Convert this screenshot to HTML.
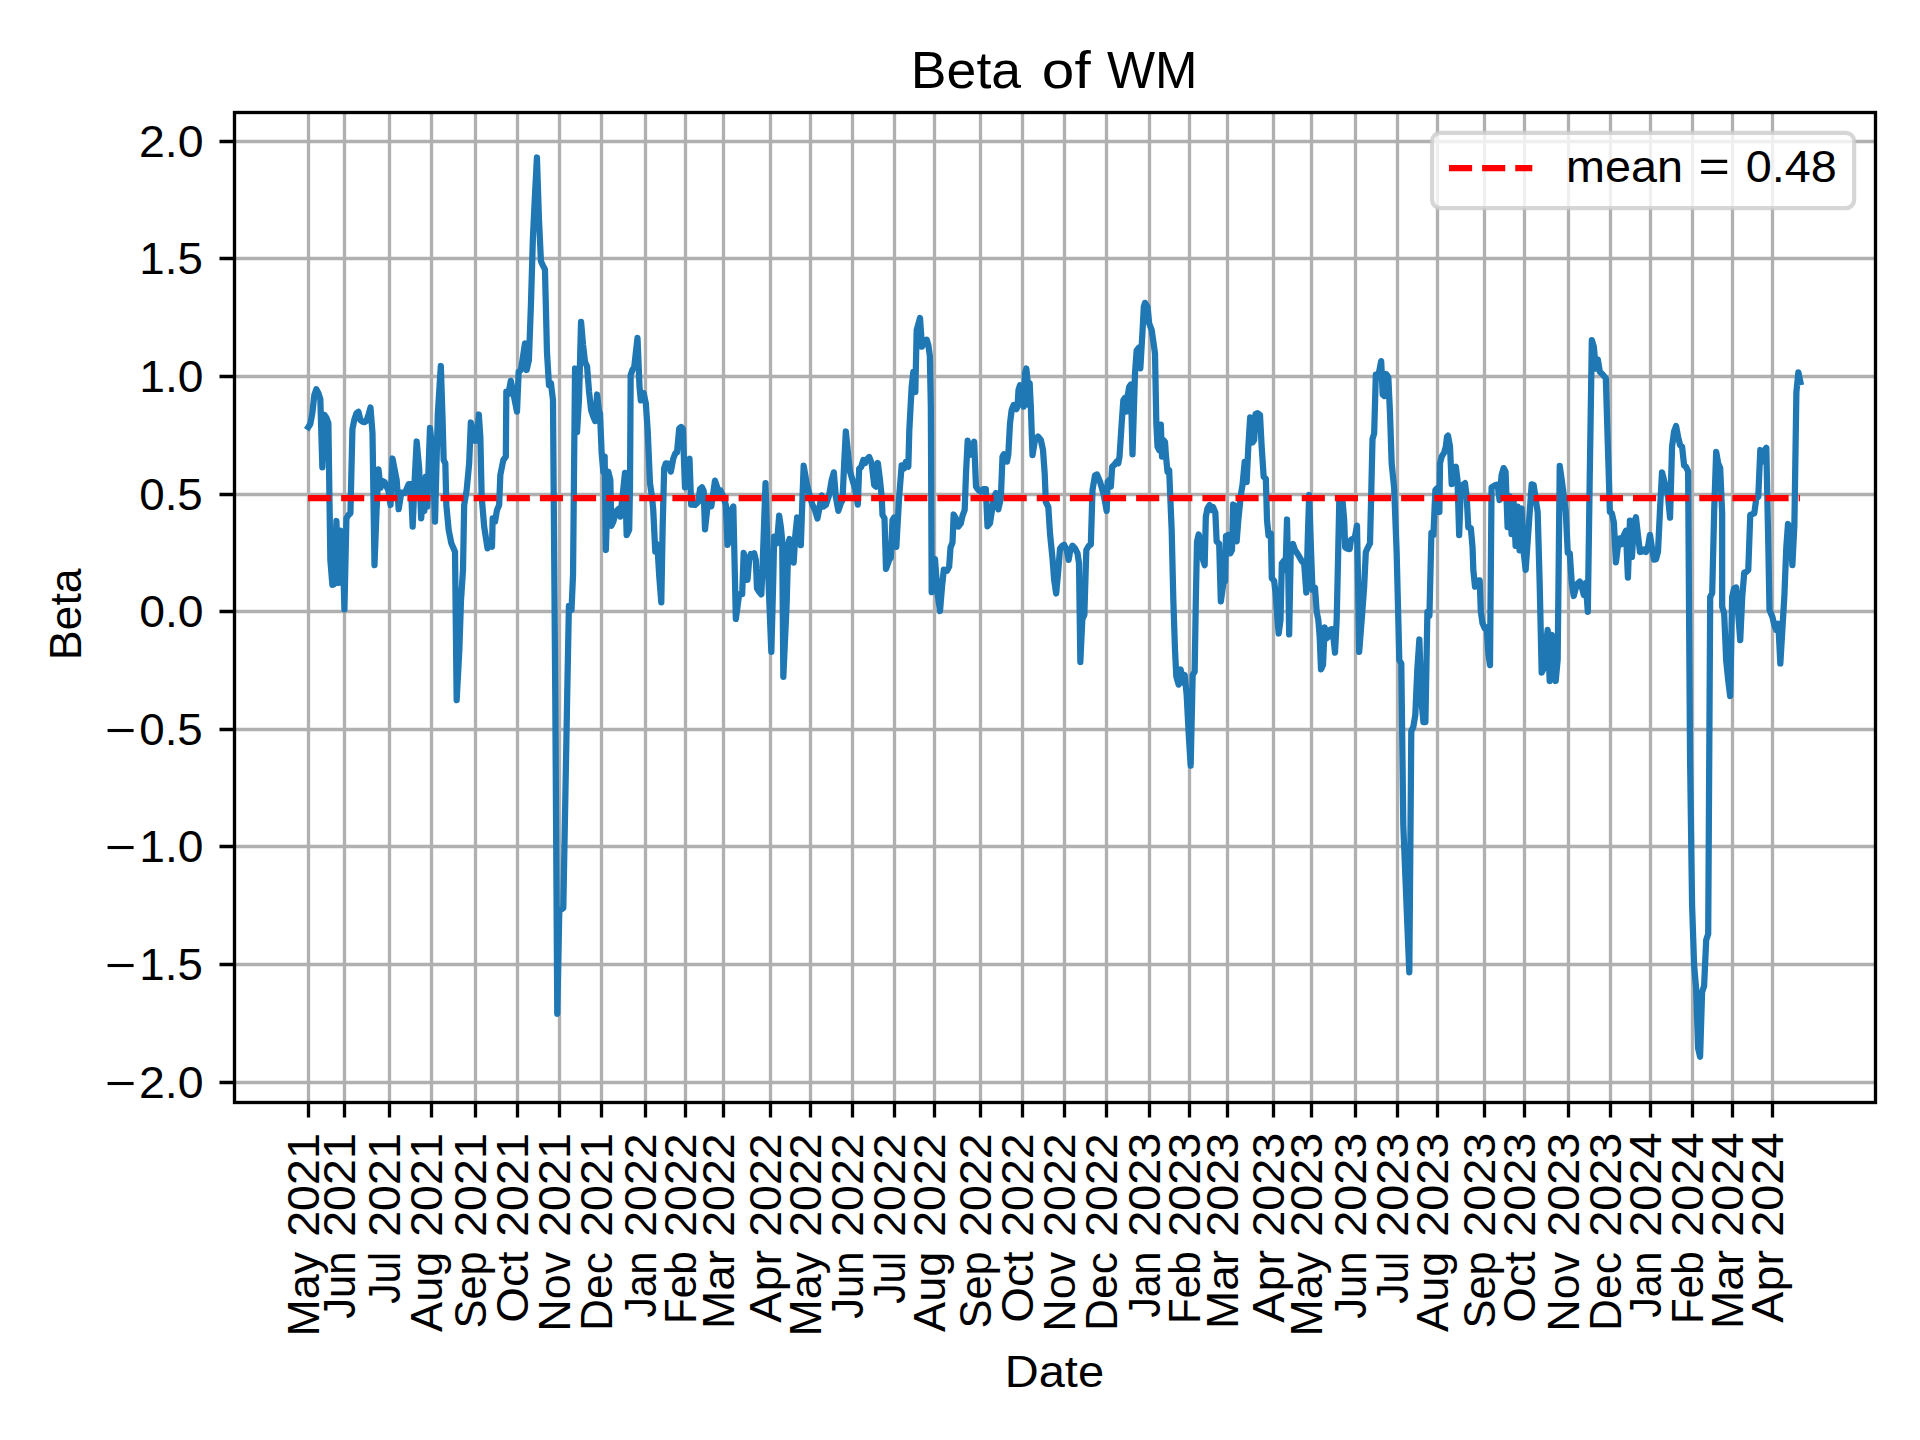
<!DOCTYPE html>
<html lang="en"><head><meta charset="utf-8"><title>Beta of WM</title>
<style>
html,body{margin:0;padding:0;background:#fff;}
body{width:1920px;height:1440px;overflow:hidden;}
svg{display:block;}
text{font-family:"Liberation Sans",sans-serif;fill:#000;}
.g{stroke:#b0b0b0;stroke-width:3.3333;fill:none;}
.k{stroke:#000;stroke-width:3.3333;fill:none;}
.t{font-size:43.6px;}
</style></head>
<body>
<svg width="1920" height="1440" viewBox="0 0 1920 1440">
<rect x="0" y="0" width="1920" height="1440" fill="#ffffff"/>
<defs><clipPath id="ax"><rect x="234.5" y="112.5" width="1641" height="990"/></clipPath></defs>
<g class="g">
<path d="M308.5 112.5V1102.5M344.5 112.5V1102.5M389.5 112.5V1102.5M431.5 112.5V1102.5M475.5 112.5V1102.5M517.5 112.5V1102.5M559.5 112.5V1102.5M601.5 112.5V1102.5M645.5 112.5V1102.5M685.5 112.5V1102.5M723.5 112.5V1102.5M770.5 112.5V1102.5M810.5 112.5V1102.5M852.5 112.5V1102.5M894.5 112.5V1102.5M934.5 112.5V1102.5M980.5 112.5V1102.5M1022.5 112.5V1102.5M1064.5 112.5V1102.5M1106.5 112.5V1102.5M1149.5 112.5V1102.5M1189.5 112.5V1102.5M1227.5 112.5V1102.5M1273.5 112.5V1102.5M1311.5 112.5V1102.5M1355.5 112.5V1102.5M1397.5 112.5V1102.5M1437.5 112.5V1102.5M1484.5 112.5V1102.5M1524.5 112.5V1102.5M1568.5 112.5V1102.5M1610.5 112.5V1102.5M1650.5 112.5V1102.5M1692.5 112.5V1102.5M1732.5 112.5V1102.5M1772.5 112.5V1102.5"/>
<path d="M234.5 141.5H1875.5M234.5 258.5H1875.5M234.5 376.5H1875.5M234.5 494.5H1875.5M234.5 611.5H1875.5M234.5 729.5H1875.5M234.5 846.5H1875.5M234.5 964.5H1875.5M234.5 1082.5H1875.5"/>
</g>
<g clip-path="url(#ax)">
<polyline fill="none" stroke="#1f77b4" stroke-width="6.25" stroke-linejoin="round" stroke-linecap="square" points="308.31,427.1 310.32,424 312.32,413.3 314.33,395 316.33,389.3 318.34,392.9 320.35,399.3 322.35,467.3 324.36,414.8 326.36,417.7 328.37,423.1 330.37,560 332.38,584.8 334.38,584 336.39,521 338.39,583 340.4,530.6 342.41,532.5 344.41,609.4 346.42,518.5 348.42,515 350.43,513.3 352.43,429.2 354.44,419.2 356.44,413.3 358.45,411.8 360.46,420 362.46,421.7 364.47,422.1 366.47,420.8 368.48,415 370.48,407.5 372.49,433 374.49,565.2 376.5,512 378.5,469.3 380.51,488 382.52,481 384.52,482 386.53,486 388.53,491 390.54,505 392.54,458.5 396.67,480 398.67,509.17 401.33,492.5 405,493 408.67,484.17 410.83,484.17 412.67,526.67 414.67,480 416.67,441.5 419.17,468.33 421.17,518.33 423,496.67 424.33,510.83 425.83,476.67 427.17,506.67 430,428 432.83,455 435,521.67 437.83,413.33 440.83,366 442.5,416.67 443.67,460 445.33,463.33 446.33,505 448.67,530 451.33,543.33 455,551.67 456.67,700.17 459.33,650 461,600 463,570 464.17,505 466.67,490 469.17,463.33 470.83,422.5 473.33,431.67 475.33,440.83 477,436.67 478.83,414.5 480.33,436.67 481.67,496.67 484.17,526.67 487.5,548.33 490,545 492,546.67 492.67,518.33 495,521.67 497,510 499.17,505 500.33,475 503.33,460 505.83,456.67 506.33,391.67 508.33,394.17 510.83,380.83 513.33,393.33 517,411.67 518.67,371.67 520.83,370 522.5,360 525,343.33 526.67,370 528.91,360 530.92,305 532.92,237.5 534.93,196 536.94,157.5 538.94,218.8 540.95,261.3 542.95,265.6 544.96,269.4 546.96,352 548.97,385 550.97,383.3 552.98,400 555.3,700 557.27,1013.8 559.3,911 561.3,909.5 563.3,908 565.3,800 567.3,690 568.9,606 571.5,610 573.03,575 575.04,368.5 577.05,432 579.05,398 581.06,321.8 583.06,345 585.07,362 587.07,366.5 589.08,392 591.08,410 593.09,416 595.1,421 597.1,394.5 599.1,412 600,413.33 601.67,453.33 603.33,471.67 604.67,456.67 605.83,550 608.33,471.67 610.33,480 611.33,525.83 613.33,521.67 615.83,511.67 618.33,509.17 620.33,516.67 622.5,496.67 625,472.83 626.67,535.17 629.17,530 630,488.33 630.67,375 632.5,369.67 634.17,367.5 637.5,337.83 639.5,386.67 640.83,400.33 643.67,393.17 645.83,403.33 647.67,430 650,483.33 652,496.67 653.25,510 655.27,551.67 657.27,544.17 659.27,576.67 661.28,602.33 662.67,526.67 664.17,468.33 665.83,463.33 668.33,463.67 670.83,471.67 673.33,458.33 675.33,453.33 677,452.5 679.17,428.67 681.17,427 682.83,428.67 685,487.5 687.5,461.67 689.5,458.67 691.17,504.67 695,505 698.33,501.67 700,489.17 702,487.33 703.67,490.83 705,529.33 707.5,506.67 709.17,500.33 711.33,506.33 715,480.67 717.5,488.33 719.17,494.17 720.33,490.33 723.33,496.67 725.83,505 727.5,544.83 730,538.33 731.17,510 733.33,506.5 735.83,619 739.17,594.17 742.17,594.17 743.67,552.83 745.33,560 747.5,579.83 749.17,560 750.83,554 752.5,556 754.17,553.17 755.83,560 757,588.33 759.17,592 761.33,594.33 762.83,560 765.5,483.17 768.33,576.67 771.33,651.83 773.33,576.67 774.17,536.67 775.83,540 777,543.33 779.17,515.67 780.83,526.67 782.17,540 783.33,676.83 786.67,603.33 788.33,543.33 789.5,539 791.67,545.83 793.67,562.67 795.33,535 797.17,517.5 799.17,520 800.83,545.17 802.5,496.67 803.67,465.67 806.67,483.33 810,496.67 812.5,505 815,510 817.5,518.5 819.67,506.67 821.67,495.33 823.33,506.67 825.83,505 829.17,495 831.67,480 833.83,472.33 835.83,496.67 838.33,510.83 840.83,503.33 842.5,500 844.17,463.33 845.83,431.5 848.33,456.67 850,471.67 852.5,480 855,488.33 857.83,504.67 859.17,468.67 861.17,467 863.33,460 865,463.33 866.67,459.5 869.17,457 871.67,463.33 874.17,485 875.83,486.67 877.83,463 880,480 881.67,496.67 882.5,515 884.5,518.33 886,569 889.17,560 890.83,557.5 892.5,520 894,517.5 896.33,546.83 899.17,496.67 901.67,465.33 904.17,468.33 905.83,462 908.33,466.67 909.33,430 911.67,386.67 913.33,372 915.33,392 916.67,330 918.33,324.17 920,318 922,346.67 924.17,340.83 926.67,339.67 928.33,345 929.83,355.83 930.83,406.67 931.67,592.17 935,559 937.5,593.33 940,611 942,586.67 943.83,569.67 947,570.83 949.17,566.67 950.5,547.5 952.5,542.5 953.67,514.5 955.83,518.33 958.33,526.67 960.83,523.33 962.5,515.83 964.67,510 966,473.33 967.67,440.67 969.67,455 971,450.83 974.17,441.67 976,486.67 978.33,490 980.83,491.67 983.33,489.17 985.83,489.17 987.5,526.33 990,523.33 992.5,506.67 994.17,496.67 996,493 998.33,509.33 1000.83,498.33 1002.5,456.67 1003.83,454.17 1005.83,455 1007,461.67 1008.33,454.17 1010,423.33 1011.67,410 1013.67,405 1016.33,409.17 1017.5,406.67 1018.5,390 1020,385.33 1022,396.67 1023.67,406.67 1025,373.33 1026.33,368.5 1027.83,383.33 1028.67,405 1029.67,383.33 1030.83,406.67 1032.5,455.17 1035,440 1038,436.5 1040.83,440 1043,450 1044.67,473.33 1045.83,502 1048.33,507 1050,533.33 1052.5,558.33 1054.17,580 1056.17,593.5 1058.33,570 1060,548.67 1062,546 1064.17,544.83 1066.67,550 1068.67,559.83 1070.33,550 1072.5,545.67 1075,548.33 1077.5,553.33 1079,563.33 1080.33,662 1082.33,619.17 1084.33,615 1086.33,550 1088.67,546 1090.83,544.67 1092.5,490 1095,475.33 1097,474.5 1100,481.67 1103.33,493.33 1105.33,503.33 1106.67,511 1107.67,481.67 1109.33,480 1110.83,486.67 1112.17,466.67 1114.17,465 1116.67,461.67 1118.33,463.33 1119.5,456.67 1121.67,423.33 1123.33,400.33 1125,397.83 1126.17,411.67 1127.5,396.67 1129.17,387 1130.83,384.5 1132.5,454.33 1135,373.33 1136.67,350.33 1138.67,347.83 1140.33,368.33 1142.5,331.67 1143.83,306.67 1145,302.83 1147.5,306.67 1149.17,323.33 1151.67,330 1155,353.33 1156.33,423.33 1157.5,446.67 1159.17,450 1160.83,424.67 1162,456.67 1163.33,440 1165,442 1166,456.67 1167.5,471.67 1169.17,470.33 1170.33,498.33 1171.67,530 1173.33,600 1175,650 1176.33,676.67 1178.67,684.67 1180.67,669.5 1182.67,682.5 1184.67,675 1186.67,695 1188.67,733.33 1190.67,765.67 1192.67,675 1194.67,671.67 1195.83,600 1197,541.67 1198.67,534.5 1200.83,541.67 1202.5,558.33 1204.67,565.17 1205.83,516.67 1207.5,508.33 1209.5,505 1211.33,510 1213,507 1215.33,512.5 1216.67,541.67 1219.17,543.67 1220.83,601.5 1223.33,583.33 1225,581.33 1226,535.83 1228.33,535 1230.33,553.33 1232,550 1233.17,504.5 1235,505.83 1236.67,541.33 1238.33,520 1240.83,495 1242.5,485 1244.67,462 1246.67,482 1248.33,446.67 1250.17,417.33 1252.5,442.5 1254.17,440 1255.5,414.17 1257.67,413.17 1260,415 1261.67,446.67 1263.67,476.67 1265.83,478.67 1267,520 1268.5,535.33 1270.83,533.67 1271.83,578.33 1274.17,580.83 1275.83,595 1277.5,620 1278.67,633.5 1280.5,620 1281.83,563.33 1284.17,560.33 1285.5,570 1287,519.5 1288.33,576.67 1289.17,634.33 1290.83,546.67 1293,544 1295,550 1298.33,555 1301.67,560.83 1304.17,563.67 1306.33,592.5 1307.83,536.67 1309.17,495 1310.83,545 1312.5,590 1315,587.83 1316.67,611.67 1318.33,620 1319.67,636.67 1321,669.33 1323,665 1324.67,627.33 1326.67,638.33 1328.33,636.67 1330.33,629.5 1332,629.17 1333.33,636.67 1335,652.67 1336.67,620 1338.17,553.33 1339.33,498.67 1342.5,500.33 1344.17,520 1345.17,547.5 1347.5,548.67 1349.67,549.17 1351,539.67 1353.33,538.67 1355,536.67 1357,525.67 1358.17,586.67 1359.17,651.83 1361.67,620 1364.17,586.67 1365.83,552 1367.83,547.67 1370,543.33 1371,503.33 1372.5,439.17 1374.17,433.33 1375.83,374.67 1377.5,377 1379.17,371.67 1381.17,361.17 1382.67,394.67 1384.33,396 1386.17,374 1388.33,377.5 1390,413.33 1391.67,463.33 1394.17,488.33 1396.67,553.33 1398.33,620 1399.3,660 1401.3,663.5 1403.3,825 1405.3,875 1407.3,924 1409.32,972.3 1411.3,731 1413.3,727 1415.3,715 1417.3,670 1419.35,639.5 1421.4,700 1423.4,722 1425.4,722 1427.4,612 1429.4,616 1431.4,533 1433.4,535 1435.4,490 1437.4,488 1439.4,512 1440,463.33 1441.67,456.67 1444.17,452.5 1445.83,446.67 1447,436.67 1448,435.67 1450,446.67 1451.67,484.17 1453.33,468.33 1455.83,466.67 1457.5,480 1459.17,535.17 1460.83,488.33 1462.5,485 1465,483.17 1466.67,496.67 1468.33,527.5 1470.83,528 1472.5,546.67 1473.33,570 1475,586.67 1477.5,580.83 1479.67,580.33 1480.83,611.67 1482.5,623.33 1484.67,628.33 1486.67,627.5 1488.33,653.33 1490,665.17 1491.55,487.5 1493.56,486.25 1495.56,485 1497.57,484.58 1499.58,500 1501.58,475 1503.58,468.08 1505.58,471.83 1507.58,527.08 1509.58,496.42 1511.58,534.17 1513.58,501.67 1515.58,545.83 1517.58,506.67 1519.58,550.42 1521.58,508.5 1523.58,551.25 1525.64,570 1527.65,541.42 1529.66,512.92 1531.67,484.33 1533.67,485 1535.67,499.17 1537.67,512.08 1539.67,583.33 1541.67,672.67 1543.67,668.33 1545.67,646.67 1547.67,629.83 1549.67,681 1551.67,634.83 1553.67,637.33 1555.67,681 1557.67,660 1559.73,465.83 1561.73,480 1563.75,495.33 1565.75,511.67 1567.75,552.83 1569.77,553.33 1571.77,583.33 1573.77,596 1575.78,588.33 1577.78,583.33 1579.78,581.5 1581.8,586.67 1583.8,595 1585.8,583 1587.82,611.83 1589.82,471.67 1591.83,340.17 1593.83,346.67 1595.83,368.67 1597.83,359.5 1599.83,371.67 1601.83,373.67 1603.83,375.83 1605.83,378.33 1607.83,445 1609.88,512 1611.88,513.33 1613.88,522.5 1615.9,562.33 1617.9,546.67 1619.9,538.33 1621.92,544.17 1623.92,535 1625.92,530.83 1627.93,577.67 1629.93,520.67 1631.93,557 1633.95,523.33 1635.95,517.33 1637.95,535 1639.97,552 1641.97,551.67 1643.97,549.67 1645.98,552 1647.98,546.67 1649.98,534.83 1652,548.33 1654,559.67 1656,559.17 1658,551.67 1660,510 1662,472.33 1664,480 1666,488.33 1668,496.67 1670.05,517.67 1672.05,446.67 1674.05,431.67 1676.07,426 1678.07,436.67 1680.07,445 1682.08,446.67 1684.08,465.33 1686.08,467 1688.1,471.33 1690.08,760 1692.09,905 1694.09,965 1696.1,988 1698.1,1048.3 1700.1,1056.7 1702.1,992 1704.1,986 1706.2,940 1708.2,934 1710.2,597 1712.2,593 1714.2,510 1716.17,451.83 1718.17,463.33 1720.17,468 1722.17,513.33 1722.17,606.67 1724.17,613.33 1726.17,660.33 1728.17,680 1730.17,696 1732.17,596.67 1734.17,588.33 1736.17,587.5 1738.17,613.33 1740.23,640.17 1742.25,596.67 1744.25,572.5 1746.25,572 1748.27,570 1750.27,515 1752.27,514.17 1754.28,513.33 1756.28,498.67 1758.28,496.67 1760.3,450 1762.3,461.67 1764.3,450.83 1766.32,447.83 1768.32,546.67 1769.5,610 1772.33,616.67 1774.33,625 1776.33,630 1778.33,623.67 1780.33,663.5 1782.33,630 1784.33,596.67 1786.33,546.67 1788,524 1790.38,530 1792.38,565.17 1794.38,525 1796.39,392 1798.39,372.3 1800.4,382"/>
<line x1="308" y1="498" x2="1800" y2="498" stroke="#ff0000" stroke-width="6.25" stroke-dasharray="23.125 10"/>
</g>
<path class="k" d="M308.5 1102.5V1117.5M344.5 1102.5V1117.5M389.5 1102.5V1117.5M431.5 1102.5V1117.5M475.5 1102.5V1117.5M517.5 1102.5V1117.5M559.5 1102.5V1117.5M601.5 1102.5V1117.5M645.5 1102.5V1117.5M685.5 1102.5V1117.5M723.5 1102.5V1117.5M770.5 1102.5V1117.5M810.5 1102.5V1117.5M852.5 1102.5V1117.5M894.5 1102.5V1117.5M934.5 1102.5V1117.5M980.5 1102.5V1117.5M1022.5 1102.5V1117.5M1064.5 1102.5V1117.5M1106.5 1102.5V1117.5M1149.5 1102.5V1117.5M1189.5 1102.5V1117.5M1227.5 1102.5V1117.5M1273.5 1102.5V1117.5M1311.5 1102.5V1117.5M1355.5 1102.5V1117.5M1397.5 1102.5V1117.5M1437.5 1102.5V1117.5M1484.5 1102.5V1117.5M1524.5 1102.5V1117.5M1568.5 1102.5V1117.5M1610.5 1102.5V1117.5M1650.5 1102.5V1117.5M1692.5 1102.5V1117.5M1732.5 1102.5V1117.5M1772.5 1102.5V1117.5M219.5 141.5H234.5M219.5 258.5H234.5M219.5 376.5H234.5M219.5 494.5H234.5M219.5 611.5H234.5M219.5 729.5H234.5M219.5 846.5H234.5M219.5 964.5H234.5M219.5 1082.5H234.5"/>
<rect class="k" x="234.5" y="112.5" width="1641" height="990" stroke-linejoin="miter"/>
<text class="t" y="157"><tspan x="138.99" textLength="64.58" lengthAdjust="spacingAndGlyphs">2.0</tspan></text>
<text class="t" y="274"><tspan x="139.37" textLength="63.43" lengthAdjust="spacingAndGlyphs">1.5</tspan></text>
<text class="t" y="392"><tspan x="139.33" textLength="64.24" lengthAdjust="spacingAndGlyphs">1.0</tspan></text>
<text class="t" y="510"><tspan x="139.22" textLength="63.58" lengthAdjust="spacingAndGlyphs">0.5</tspan></text>
<text class="t" y="627"><tspan x="139.2" textLength="64.37" lengthAdjust="spacingAndGlyphs">0.0</tspan></text>
<text class="t" y="745"><tspan x="105.13" textLength="31.33" lengthAdjust="spacingAndGlyphs">−</tspan><tspan x="139.22" textLength="63.58" lengthAdjust="spacingAndGlyphs">0.5</tspan></text>
<text class="t" y="862"><tspan x="105.13" textLength="31.33" lengthAdjust="spacingAndGlyphs">−</tspan><tspan x="139.33" textLength="64.24" lengthAdjust="spacingAndGlyphs">1.0</tspan></text>
<text class="t" y="980"><tspan x="105.13" textLength="31.33" lengthAdjust="spacingAndGlyphs">−</tspan><tspan x="139.37" textLength="63.43" lengthAdjust="spacingAndGlyphs">1.5</tspan></text>
<text class="t" y="1098"><tspan x="105.13" textLength="31.33" lengthAdjust="spacingAndGlyphs">−</tspan><tspan x="138.99" textLength="64.58" lengthAdjust="spacingAndGlyphs">2.0</tspan></text>
<text class="t" transform="translate(319 1336.93) rotate(-90)"><tspan x="0.41" textLength="84.56" lengthAdjust="spacingAndGlyphs">May</tspan> <tspan x="100.1" textLength="103.75" lengthAdjust="spacingAndGlyphs">2021</tspan></text>
<text class="t" transform="translate(355 1315.89) rotate(-90)"><tspan x="-2.81" textLength="67.07" lengthAdjust="spacingAndGlyphs">Jun</tspan> <tspan x="79.06" textLength="103.75" lengthAdjust="spacingAndGlyphs">2021</tspan></text>
<text class="t" transform="translate(400 1301.06) rotate(-90)"><tspan x="-2.8" textLength="51.88" lengthAdjust="spacingAndGlyphs">Jul</tspan> <tspan x="64.23" textLength="103.75" lengthAdjust="spacingAndGlyphs">2021</tspan></text>
<text class="t" transform="translate(442 1332.14) rotate(-90)"><tspan x="0.24" textLength="80.24" lengthAdjust="spacingAndGlyphs">Aug</tspan> <tspan x="95.31" textLength="103.75" lengthAdjust="spacingAndGlyphs">2021</tspan></text>
<text class="t" transform="translate(486 1329.32) rotate(-90)"><tspan x="0.77" textLength="77.31" lengthAdjust="spacingAndGlyphs">Sep</tspan> <tspan x="92.49" textLength="103.75" lengthAdjust="spacingAndGlyphs">2021</tspan></text>
<text class="t" transform="translate(528 1322.83) rotate(-90)"><tspan x="0.18" textLength="71.19" lengthAdjust="spacingAndGlyphs">Oct</tspan> <tspan x="86" textLength="103.75" lengthAdjust="spacingAndGlyphs">2021</tspan></text>
<text class="t" transform="translate(570 1332.1) rotate(-90)"><tspan x="0.4" textLength="79.81" lengthAdjust="spacingAndGlyphs">Nov</tspan> <tspan x="95.27" textLength="103.75" lengthAdjust="spacingAndGlyphs">2021</tspan></text>
<text class="t" transform="translate(612 1331.41) rotate(-90)"><tspan x="0.45" textLength="78.75" lengthAdjust="spacingAndGlyphs">Dec</tspan> <tspan x="94.58" textLength="103.75" lengthAdjust="spacingAndGlyphs">2021</tspan></text>
<text class="t" transform="translate(656 1315.01) rotate(-90)"><tspan x="-2.8" textLength="66.15" lengthAdjust="spacingAndGlyphs">Jan</tspan> <tspan x="78.19" textLength="103.49" lengthAdjust="spacingAndGlyphs">2022</tspan></text>
<text class="t" transform="translate(696 1324.56) rotate(-90)"><tspan x="0.63" textLength="72.63" lengthAdjust="spacingAndGlyphs">Feb</tspan> <tspan x="87.73" textLength="103.49" lengthAdjust="spacingAndGlyphs">2022</tspan></text>
<text class="t" transform="translate(734 1329.4) rotate(-90)"><tspan x="0.32" textLength="79.07" lengthAdjust="spacingAndGlyphs">Mar</tspan> <tspan x="92.57" textLength="103.49" lengthAdjust="spacingAndGlyphs">2022</tspan></text>
<text class="t" transform="translate(781 1322.87) rotate(-90)"><tspan x="0.24" textLength="72.64" lengthAdjust="spacingAndGlyphs">Apr</tspan> <tspan x="86.04" textLength="103.49" lengthAdjust="spacingAndGlyphs">2022</tspan></text>
<text class="t" transform="translate(821 1336.93) rotate(-90)"><tspan x="0.41" textLength="84.56" lengthAdjust="spacingAndGlyphs">May</tspan> <tspan x="100.1" textLength="103.49" lengthAdjust="spacingAndGlyphs">2022</tspan></text>
<text class="t" transform="translate(863 1315.89) rotate(-90)"><tspan x="-2.81" textLength="67.07" lengthAdjust="spacingAndGlyphs">Jun</tspan> <tspan x="79.06" textLength="103.49" lengthAdjust="spacingAndGlyphs">2022</tspan></text>
<text class="t" transform="translate(905 1301.06) rotate(-90)"><tspan x="-2.8" textLength="51.88" lengthAdjust="spacingAndGlyphs">Jul</tspan> <tspan x="64.23" textLength="103.49" lengthAdjust="spacingAndGlyphs">2022</tspan></text>
<text class="t" transform="translate(945 1332.14) rotate(-90)"><tspan x="0.24" textLength="80.24" lengthAdjust="spacingAndGlyphs">Aug</tspan> <tspan x="95.32" textLength="103.49" lengthAdjust="spacingAndGlyphs">2022</tspan></text>
<text class="t" transform="translate(991 1329.32) rotate(-90)"><tspan x="0.77" textLength="77.31" lengthAdjust="spacingAndGlyphs">Sep</tspan> <tspan x="92.49" textLength="103.49" lengthAdjust="spacingAndGlyphs">2022</tspan></text>
<text class="t" transform="translate(1033 1322.83) rotate(-90)"><tspan x="0.18" textLength="71.19" lengthAdjust="spacingAndGlyphs">Oct</tspan> <tspan x="86" textLength="103.49" lengthAdjust="spacingAndGlyphs">2022</tspan></text>
<text class="t" transform="translate(1075 1332.1) rotate(-90)"><tspan x="0.4" textLength="79.81" lengthAdjust="spacingAndGlyphs">Nov</tspan> <tspan x="95.28" textLength="103.49" lengthAdjust="spacingAndGlyphs">2022</tspan></text>
<text class="t" transform="translate(1117 1331.41) rotate(-90)"><tspan x="0.45" textLength="78.75" lengthAdjust="spacingAndGlyphs">Dec</tspan> <tspan x="94.59" textLength="103.49" lengthAdjust="spacingAndGlyphs">2022</tspan></text>
<text class="t" transform="translate(1160 1315.01) rotate(-90)"><tspan x="-2.8" textLength="66.15" lengthAdjust="spacingAndGlyphs">Jan</tspan> <tspan x="78.18" textLength="104.05" lengthAdjust="spacingAndGlyphs">2023</tspan></text>
<text class="t" transform="translate(1200 1324.56) rotate(-90)"><tspan x="0.63" textLength="72.63" lengthAdjust="spacingAndGlyphs">Feb</tspan> <tspan x="87.72" textLength="104.05" lengthAdjust="spacingAndGlyphs">2023</tspan></text>
<text class="t" transform="translate(1238 1329.4) rotate(-90)"><tspan x="0.32" textLength="79.07" lengthAdjust="spacingAndGlyphs">Mar</tspan> <tspan x="92.56" textLength="104.05" lengthAdjust="spacingAndGlyphs">2023</tspan></text>
<text class="t" transform="translate(1284 1322.87) rotate(-90)"><tspan x="0.24" textLength="72.64" lengthAdjust="spacingAndGlyphs">Apr</tspan> <tspan x="86.03" textLength="104.05" lengthAdjust="spacingAndGlyphs">2023</tspan></text>
<text class="t" transform="translate(1322 1336.93) rotate(-90)"><tspan x="0.41" textLength="84.56" lengthAdjust="spacingAndGlyphs">May</tspan> <tspan x="100.09" textLength="104.05" lengthAdjust="spacingAndGlyphs">2023</tspan></text>
<text class="t" transform="translate(1366 1315.89) rotate(-90)"><tspan x="-2.81" textLength="67.07" lengthAdjust="spacingAndGlyphs">Jun</tspan> <tspan x="79.05" textLength="104.05" lengthAdjust="spacingAndGlyphs">2023</tspan></text>
<text class="t" transform="translate(1408 1301.06) rotate(-90)"><tspan x="-2.8" textLength="51.88" lengthAdjust="spacingAndGlyphs">Jul</tspan> <tspan x="64.22" textLength="104.05" lengthAdjust="spacingAndGlyphs">2023</tspan></text>
<text class="t" transform="translate(1448 1332.14) rotate(-90)"><tspan x="0.24" textLength="80.24" lengthAdjust="spacingAndGlyphs">Aug</tspan> <tspan x="95.31" textLength="104.05" lengthAdjust="spacingAndGlyphs">2023</tspan></text>
<text class="t" transform="translate(1495 1329.32) rotate(-90)"><tspan x="0.77" textLength="77.31" lengthAdjust="spacingAndGlyphs">Sep</tspan> <tspan x="92.48" textLength="104.05" lengthAdjust="spacingAndGlyphs">2023</tspan></text>
<text class="t" transform="translate(1535 1322.83) rotate(-90)"><tspan x="0.18" textLength="71.19" lengthAdjust="spacingAndGlyphs">Oct</tspan> <tspan x="85.99" textLength="104.05" lengthAdjust="spacingAndGlyphs">2023</tspan></text>
<text class="t" transform="translate(1579 1332.1) rotate(-90)"><tspan x="0.4" textLength="79.81" lengthAdjust="spacingAndGlyphs">Nov</tspan> <tspan x="95.27" textLength="104.05" lengthAdjust="spacingAndGlyphs">2023</tspan></text>
<text class="t" transform="translate(1621 1331.41) rotate(-90)"><tspan x="0.45" textLength="78.75" lengthAdjust="spacingAndGlyphs">Dec</tspan> <tspan x="94.58" textLength="104.05" lengthAdjust="spacingAndGlyphs">2023</tspan></text>
<text class="t" transform="translate(1661 1315.01) rotate(-90)"><tspan x="-2.8" textLength="66.15" lengthAdjust="spacingAndGlyphs">Jan</tspan> <tspan x="78.17" textLength="104.38" lengthAdjust="spacingAndGlyphs">2024</tspan></text>
<text class="t" transform="translate(1703 1324.56) rotate(-90)"><tspan x="0.63" textLength="72.63" lengthAdjust="spacingAndGlyphs">Feb</tspan> <tspan x="87.71" textLength="104.38" lengthAdjust="spacingAndGlyphs">2024</tspan></text>
<text class="t" transform="translate(1743 1329.4) rotate(-90)"><tspan x="0.32" textLength="79.07" lengthAdjust="spacingAndGlyphs">Mar</tspan> <tspan x="92.55" textLength="104.38" lengthAdjust="spacingAndGlyphs">2024</tspan></text>
<text class="t" transform="translate(1783 1322.87) rotate(-90)"><tspan x="0.24" textLength="72.64" lengthAdjust="spacingAndGlyphs">Apr</tspan> <tspan x="86.02" textLength="104.38" lengthAdjust="spacingAndGlyphs">2024</tspan></text>
<text y="88" font-size="52.3"><tspan x="910.86" textLength="110.25" lengthAdjust="spacingAndGlyphs">Beta</tspan> <tspan x="1041.88" textLength="48.76" lengthAdjust="spacingAndGlyphs">of</tspan> <tspan x="1107.09" textLength="90.45" lengthAdjust="spacingAndGlyphs">WM</tspan></text>
<text class="t" y="1387"><tspan x="1004.77" textLength="99.25" lengthAdjust="spacingAndGlyphs">Date</tspan></text>
<text class="t" transform="translate(81 660.58) rotate(-90)"><tspan x="0.42" textLength="91.88" lengthAdjust="spacingAndGlyphs">Beta</tspan></text>
<rect x="1432.04" y="132.83" width="422.13" height="75.34" rx="8.33" ry="8.33" fill="#ffffff" fill-opacity="0.8" stroke="#cccccc" stroke-opacity="0.8" stroke-width="4.1667"/>
<line x1="1449" y1="168" x2="1532.33" y2="168" stroke="#ff0000" stroke-width="6.25" stroke-dasharray="23.125 10"/>
<text class="t" y="181.5"><tspan x="1566.07" textLength="116.95" lengthAdjust="spacingAndGlyphs">mean</tspan> <tspan x="1698.58" textLength="31.33" lengthAdjust="spacingAndGlyphs">=</tspan> <tspan x="1745.85" textLength="91.06" lengthAdjust="spacingAndGlyphs">0.48</tspan></text>
</svg>
</body></html>
